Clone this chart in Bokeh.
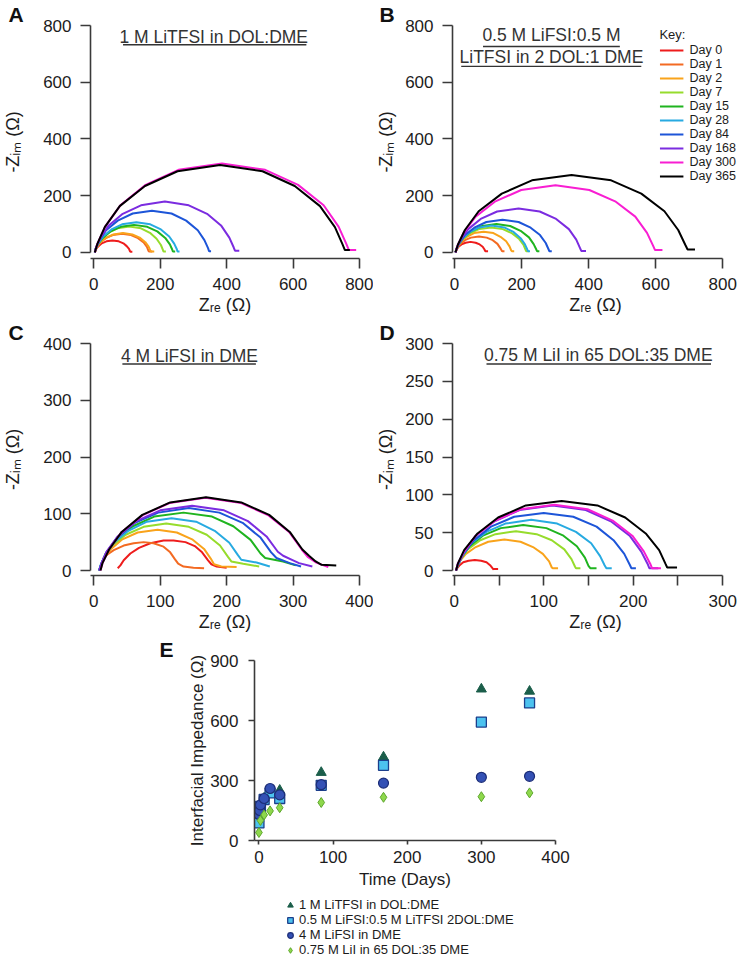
from bokeh.plotting import figure
from bokeh.models import Range1d, FixedTicker, Label, Legend, LegendItem
from bokeh.layouts import column, row
from bokeh.embed import file_html
from bokeh.resources import INLINE

# ---------------- data ----------------
days = [0, 1, 2, 7, 15, 28, 84, 168, 300, 365]
day_labels = ["Day 0", "Day 1", "Day 2", "Day 7", "Day 15", "Day 28",
              "Day 84", "Day 168", "Day 300", "Day 365"]
day_colors = ["#ee1c1c", "#f36a22", "#f9a31b", "#96dc2c", "#1fb41f", "#27aae1",
              "#1d55d8", "#7b2ce0", "#f81ed2", "#000000"]

# Panel A: 1 M LiTFSI in DOL:DME
a_d0_zre = [3, 4, 7, 14, 24, 38, 56, 75, 89, 99, 106, 109, 110, 116]
a_d0_zim = [0, 4, 12, 22, 32, 39, 42, 39, 32, 22, 12, 4, 2, 2]
a_d1_zre = [3, 5, 10, 19, 36, 57, 85, 112, 133, 150, 160, 164, 166, 176]
a_d1_zim = [0, 7, 19, 35, 50, 61, 66, 61, 50, 35, 19, 7, 3, 3]
a_d2_zre = [3, 5, 10, 20, 37, 59, 88, 116, 138, 155, 165, 170, 172, 182]
a_d2_zim = [0, 7, 20, 36, 52, 63, 68, 63, 52, 36, 20, 7, 3, 3]
a_d7_zre = [3, 5, 11, 24, 44, 71, 107, 142, 169, 189, 202, 208, 210, 217]
a_d7_zim = [0, 9, 26, 48, 69, 85, 91, 85, 69, 48, 26, 9, 3, 3]
a_d15_zre = [3, 5, 12, 27, 50, 81, 121, 161, 191, 215, 229, 236, 238, 245]
a_d15_zim = [0, 10, 28, 51, 74, 90, 97, 90, 74, 51, 28, 10, 3, 3]
a_d28_zre = [3, 5, 13, 28, 53, 85, 128, 170, 202, 227, 242, 250, 252, 258]
a_d28_zim = [0, 11, 31, 56, 81, 99, 106, 99, 81, 56, 31, 11, 3, 3]
a_d84_zre = [3, 6, 17, 37, 72, 117, 175, 234, 278, 313, 333, 344, 347, 353]
a_d84_zim = [0, 15, 43, 78, 112, 137, 147, 137, 112, 78, 43, 15, 4, 4]
a_d168_zre = [3, 7, 20, 45, 87, 142, 214, 286, 341, 383, 408, 421, 425, 438]
a_d168_zim = [0, 18, 52, 95, 136, 166, 179, 166, 136, 95, 52, 18, 6, 6]
a_d300_zre = [3, 11, 34, 80, 156, 255, 386, 516, 615, 692, 737, 760, 768, 790]
a_d300_zim = [0, 31, 91, 166, 238, 291, 313, 291, 238, 166, 91, 31, 8, 8]
a_d365_zre = [3, 11, 33, 78, 154, 252, 380, 508, 605, 681, 726, 748, 756, 771]
a_d365_zim = [0, 31, 89, 163, 234, 286, 308, 286, 234, 163, 89, 31, 8, 8]

# Panel B: 0.5 M LiFSI:0.5 M LiTFSI in 2 DOL:1 DME
b_d0_zre = [3, 4, 7, 12, 21, 33, 48, 63, 75, 84, 89, 92, 93, 100]
b_d0_zim = [0, 4, 11, 20, 28, 34, 37, 34, 28, 20, 11, 4, 4, 4]
b_d1_zre = [3, 4, 9, 17, 31, 49, 73, 96, 114, 128, 136, 141, 142, 149]
b_d1_zim = [0, 6, 16, 30, 43, 52, 56, 52, 43, 30, 16, 6, 4, 4]
b_d2_zre = [3, 5, 10, 20, 37, 58, 87, 116, 137, 154, 164, 169, 171, 178]
b_d2_zim = [0, 7, 21, 39, 55, 68, 73, 68, 55, 39, 21, 7, 4, 4]
b_d7_zre = [3, 5, 11, 24, 45, 73, 109, 144, 172, 193, 206, 212, 214, 221]
b_d7_zim = [0, 9, 26, 47, 67, 82, 88, 82, 67, 47, 26, 9, 4, 4]
b_d15_zre = [3, 5, 13, 27, 52, 83, 125, 166, 197, 222, 236, 244, 246, 253]
b_d15_zim = [0, 10, 29, 53, 76, 93, 100, 93, 76, 53, 29, 10, 4, 4]
b_d28_zre = [3, 5, 12, 25, 46, 74, 111, 148, 176, 197, 210, 217, 219, 225]
b_d28_zim = [0, 10, 28, 50, 72, 88, 95, 88, 72, 50, 28, 10, 4, 4]
b_d84_zre = [3, 6, 14, 31, 59, 95, 143, 191, 227, 255, 272, 280, 283, 290]
b_d84_zim = [0, 12, 33, 61, 87, 107, 115, 107, 87, 61, 33, 12, 4, 4]
b_d168_zre = [3, 7, 18, 41, 78, 127, 191, 254, 303, 341, 363, 374, 378, 392]
b_d168_zim = [0, 16, 45, 82, 118, 144, 155, 144, 118, 82, 45, 16, 5, 5]
b_d300_zre = [3, 9, 27, 63, 122, 199, 301, 402, 479, 539, 574, 592, 598, 620]
b_d300_zim = [0, 24, 69, 126, 180, 220, 237, 220, 180, 126, 69, 24, 8, 8]
b_d365_zre = [3, 10, 31, 72, 141, 231, 349, 467, 557, 626, 667, 688, 695, 717]
b_d365_zim = [0, 27, 79, 145, 207, 254, 273, 254, 207, 145, 79, 27, 10, 10]

# Panel C: 4 M LiFSI in DME
c_d0_zre = [36, 40, 45, 55, 68, 85, 105, 120, 138, 152, 163, 172, 177, 185, 200]
c_d0_zim = [4, 9, 18, 30, 40, 48, 53, 53, 50, 43, 32, 18, 11, 7, 5]
c_d1_zre = [14, 20, 30, 45, 60, 75, 90, 105, 115, 122, 127, 135, 150, 166]
c_d1_zim = [22, 28, 36, 44, 48, 50, 48, 42, 32, 20, 12, 7, 5, 4]
c_d2_zre = [8, 10, 15, 26, 43, 66, 96, 125, 148, 166, 176, 181, 192, 215]
c_d2_zim = [0, 7, 21, 38, 55, 67, 72, 67, 55, 38, 21, 11, 7, 6]
c_d7_zre = [8, 10, 16, 28, 48, 75, 109, 143, 170, 190, 202, 207, 225, 249]
c_d7_zim = [0, 8, 24, 44, 63, 77, 83, 77, 63, 44, 24, 16, 12, 7]
c_d15_zre = [8, 11, 18, 33, 59, 91, 135, 178, 210, 236, 251, 258, 285, 304]
c_d15_zim = [0, 10, 30, 54, 78, 95, 102, 95, 78, 54, 30, 22, 16, 9]
c_d28_zre = [8, 10, 17, 30, 52, 80, 117, 154, 182, 204, 217, 222, 245, 265]
c_d28_zim = [0, 9, 27, 49, 70, 86, 92, 86, 70, 49, 27, 19, 14, 7]
c_d84_zre = [8, 11, 19, 35, 62, 97, 143, 189, 224, 251, 267, 275, 295, 312]
c_d84_zim = [0, 11, 32, 58, 84, 102, 110, 102, 84, 58, 32, 22, 13, 7]
c_d168_zre = [8, 11, 19, 36, 64, 100, 148, 196, 232, 260, 277, 285, 300, 309, 329]
c_d168_zim = [0, 11, 33, 60, 87, 106, 114, 106, 87, 60, 33, 26, 18, 13, 7]
c_d300_zre = [10, 13, 23, 42, 73, 114, 168, 222, 263, 294, 313, 322, 335, 344, 353]
c_d300_zim = [0, 13, 37, 68, 97, 119, 128, 119, 97, 68, 37, 24, 14, 10, 6]
c_d365_zre = [10, 13, 23, 42, 73, 115, 169, 222, 264, 295, 314, 324, 334, 343, 365]
c_d365_zim = [0, 13, 37, 68, 98, 120, 129, 120, 98, 68, 37, 26, 16, 10, 9]

# Panel D: 0.75 M LiI in 65 DOL:35 DME (no Day 1 curve)
d_d0_zre = [2, 2, 4, 6, 10, 16, 23, 30, 36, 40, 42, 44, 44, 49]
d_d0_zim = [0, 1, 4, 7, 11, 13, 14, 13, 11, 7, 4, 1, 2, 2]
d_d2_zre = [2, 3, 6, 13, 24, 38, 56, 74, 88, 99, 106, 109, 110, 116]
d_d2_zim = [0, 4, 12, 22, 31, 38, 41, 38, 31, 22, 12, 4, 3, 3]
d_d7_zre = [2, 3, 7, 15, 29, 46, 69, 92, 109, 123, 131, 135, 136, 141]
d_d7_zim = [0, 5, 15, 28, 40, 48, 52, 48, 40, 28, 15, 5, 3, 3]
d_d15_zre = [2, 4, 8, 17, 32, 52, 77, 103, 122, 137, 146, 150, 152, 159]
d_d15_zim = [0, 6, 17, 32, 46, 56, 60, 56, 46, 32, 17, 6, 3, 3]
d_d28_zre = [2, 4, 9, 19, 36, 57, 86, 115, 136, 153, 163, 168, 170, 176]
d_d28_zim = [0, 7, 19, 36, 51, 62, 67, 62, 51, 36, 19, 7, 3, 3]
d_d84_zre = [2, 4, 10, 22, 41, 67, 100, 133, 159, 178, 190, 196, 198, 203]
d_d84_zim = [0, 8, 22, 40, 58, 71, 76, 71, 58, 40, 22, 8, 3, 3]
d_d168_zre = [2, 4, 11, 24, 45, 73, 110, 147, 175, 196, 209, 216, 218, 228]
d_d168_zim = [0, 9, 25, 46, 65, 80, 86, 80, 65, 46, 25, 9, 3, 3]
d_d300_zre = [2, 4, 11, 24, 46, 74, 112, 149, 177, 199, 212, 219, 221, 231]
d_d300_zim = [0, 9, 25, 46, 66, 81, 87, 81, 66, 46, 25, 9, 3, 3]
d_d365_zre = [2, 4, 11, 26, 49, 80, 120, 160, 191, 214, 229, 236, 238, 249]
d_d365_zim = [0, 9, 27, 49, 70, 86, 92, 86, 70, 49, 27, 9, 4, 4]

# Panel E: interfacial impedance vs time
e_days = [0, 1, 2, 7, 15, 28, 84, 168, 300, 365]
e_litfsi = [110, 165, 175, 212, 240, 251, 340, 417, 757, 746]
e_dual = [88, 140, 170, 205, 238, 210, 276, 376, 592, 688]
e_lifsi = [130, 150, 178, 210, 260, 228, 279, 287, 316, 321]
e_lii_days = [0, 2, 7, 15, 28, 84, 168, 300, 365]
e_lii = [40, 100, 128, 148, 164, 190, 216, 219, 238]
e_labels = ["1 M LiTFSI in DOL:DME", "0.5 M LiFSI:0.5 M LiTFSI 2DOL:DME",
            "4 M LiFSI in DME", "0.75 M LiI in 65 DOL:35 DME"]

panel_titles = {
    "A": ["1 M LiTFSI in DOL:DME"],
    "B": ["0.5 M LiFSI:0.5 M", "LiTFSI in 2 DOL:1 DME"],
    "C": ["4 M LiFSI in DME"],
    "D": ["0.75 M LiI in 65 DOL:35 DME"],
}

curves_a = [(a_d0_zre, a_d0_zim), (a_d1_zre, a_d1_zim), (a_d2_zre, a_d2_zim),
            (a_d7_zre, a_d7_zim), (a_d15_zre, a_d15_zim), (a_d28_zre, a_d28_zim),
            (a_d84_zre, a_d84_zim), (a_d168_zre, a_d168_zim),
            (a_d300_zre, a_d300_zim), (a_d365_zre, a_d365_zim)]
curves_b = [(b_d0_zre, b_d0_zim), (b_d1_zre, b_d1_zim), (b_d2_zre, b_d2_zim),
            (b_d7_zre, b_d7_zim), (b_d15_zre, b_d15_zim), (b_d28_zre, b_d28_zim),
            (b_d84_zre, b_d84_zim), (b_d168_zre, b_d168_zim),
            (b_d300_zre, b_d300_zim), (b_d365_zre, b_d365_zim)]
curves_c = [(c_d0_zre, c_d0_zim), (c_d1_zre, c_d1_zim), (c_d2_zre, c_d2_zim),
            (c_d7_zre, c_d7_zim), (c_d15_zre, c_d15_zim), (c_d28_zre, c_d28_zim),
            (c_d84_zre, c_d84_zim), (c_d168_zre, c_d168_zim),
            (c_d300_zre, c_d300_zim), (c_d365_zre, c_d365_zim)]
curves_d = [(d_d0_zre, d_d0_zim), None, (d_d2_zre, d_d2_zim),
            (d_d7_zre, d_d7_zim), (d_d15_zre, d_d15_zim), (d_d28_zre, d_d28_zim),
            (d_d84_zre, d_d84_zim), (d_d168_zre, d_d168_zim),
            (d_d300_zre, d_d300_zim), (d_d365_zre, d_d365_zim)]

# ---------------- style ----------------
FONT = "Liberation Sans"
AX = "#3a3a3a"
TXT = "#1c1c1c"
ZRE = "Z\u1d63\u2091 (\u03a9)"
ZIM = "-Z\u1d62\u2098 (\u03a9)"


def style_axis(ax, size="17px", tick_out=10, standoff=6):
    ax.axis_line_color = AX
    ax.axis_line_width = 1.6
    ax.major_tick_line_color = AX
    ax.major_tick_line_width = 1.6
    ax.major_tick_out = tick_out
    ax.major_tick_in = 0
    ax.minor_tick_line_color = AX
    ax.minor_tick_line_width = 1.6
    ax.minor_tick_out = tick_out
    ax.minor_tick_in = 0
    ax.major_label_text_font = FONT
    ax.major_label_text_font_size = size
    ax.major_label_text_color = TXT
    ax.major_label_standoff = standoff
    ax.axis_label_text_font = FONT
    ax.axis_label_text_font_size = "18px"
    ax.axis_label_text_font_style = "normal"
    ax.axis_label_text_color = TXT


def set_letter(p, letter, offset, size="21px"):
    p.title.text = letter
    p.title.text_font = FONT
    p.title.text_font_size = size
    p.title.text_font_style = "bold"
    p.title.text_color = "#111111"
    p.title.align = "left"
    p.title.offset = offset
    p.title.standoff = 0


def nyquist(w, h, xr, yr, borders, xt, yt, xbounds, curves, letter,
            title_pos, underlines, ylab_standoff, xminor=None):
    bl, br, bt, bb = borders
    p = figure(width=w, height=h, x_range=Range1d(*xr), y_range=Range1d(*yr),
               output_backend="svg", toolbar_location=None, title=letter,
               min_border_left=bl, min_border_right=br,
               min_border_top=bt, min_border_bottom=bb)
    set_letter(p, letter, -bl)
    p.xgrid.visible = False
    p.ygrid.visible = False
    p.outline_line_color = None
    p.xaxis.ticker = FixedTicker(ticks=xt, minor_ticks=xminor or [])
    p.yaxis.ticker = FixedTicker(ticks=yt)
    p.yaxis.bounds = (yt[0], yt[-1])
    p.xaxis.bounds = xbounds
    for ax in list(p.xaxis) + list(p.yaxis):
        style_axis(ax)
    p.yaxis.major_label_standoff = 9
    p.xaxis.major_label_standoff = 9
    p.xaxis.axis_label = ZRE
    p.yaxis.axis_label = ZIM
    p.xaxis.axis_label_standoff = 2
    p.yaxis.axis_label_standoff = ylab_standoff
    rends = []
    for c, col in zip(curves, day_colors):
        if c is None:
            rends.append(None)
            continue
        rends.append(p.line(c[0], c[1], line_color=col, line_width=2))
    for (tx, ty, txt) in title_pos:
        p.add_layout(Label(x=tx, y=ty, text=txt, text_font=FONT,
                           text_font_size="17.5px", text_color="#333333",
                           text_align="center", text_baseline="middle"))
    ux0 = [u[0] for u in underlines]
    ux1 = [u[1] for u in underlines]
    uy = [u[2] for u in underlines]
    p.segment(ux0, uy, ux1, uy, line_color="#333333", line_width=1.4)
    return p, rends


pA, _ = nyquist(373, 318, (-10, 800), (-21.6, 800), (82, 14, 18, 60),
                [0, 200, 400, 600, 800], [0, 200, 400, 600, 800], (-10, 800),
                curves_a, "A",
                [(361, 761, panel_titles["A"][0])], [(88, 640, 732)], 17)
pB, rB = nyquist(365, 318, (-6, 846.8), (-21.6, 800), (73, 0, 18, 60),
                 [0, 200, 400, 600, 800], [0, 200, 400, 600, 800], (-6, 800),
                 curves_b, "B",
                 [(289, 765, panel_titles["B"][0]), (289, 688, panel_titles["B"][1])],
                 [(85, 493, 726), (20, 557, 656)], 6)
pC, _ = nyquist(373, 317, (-5, 400), (-8.8, 400), (82, 14, 18, 60),
                [0, 100, 200, 300, 400], [0, 100, 200, 300, 400], (-5, 400),
                curves_c, "C",
                [(144, 378, panel_titles["C"][0])], [(43, 244, 364)], 17)
pD, _ = nyquist(365, 317, (-2, 317.7), (-6.6, 300), (73, 0, 18, 60),
                [0, 100, 200, 300], [0, 50, 100, 150, 200, 250, 300], (-2, 300),
                curves_d, "D",
                [(161, 285, panel_titles["D"][0])], [(36, 287, 273)], 6,
                xminor=[50, 150, 250])

# key legend in panel B
items = [LegendItem(label=l, renderers=[r]) for l, r in zip(day_labels, rB)]
key = Legend(items=items, location="top_right", title="Key:",
             border_line_color=None, background_fill_alpha=0, padding=0,
             spacing=0, margin=2, glyph_width=24, glyph_height=14,
             label_height=14, label_standoff=6, label_text_font=FONT,
             label_text_font_size="12.5px", label_text_color=TXT,
             title_text_font=FONT, title_text_font_size="13px",
             title_text_font_style="normal", title_text_color=TXT,
             title_standoff=1)
pB.add_layout(key)

# ---------------- panel E ----------------
pE = figure(width=738, height=261, x_range=Range1d(-6, 400), y_range=Range1d(0, 900),
            output_backend="svg", toolbar_location=None, title="E",
            min_border_left=254, min_border_right=183, min_border_top=24,
            min_border_bottom=56)
set_letter(pE, "E", -95)
pE.xgrid.visible = False
pE.ygrid.visible = False
pE.outline_line_color = None
pE.xaxis.ticker = FixedTicker(ticks=[0, 100, 200, 300, 400])
pE.yaxis.ticker = FixedTicker(ticks=[0, 300, 600, 900])
style_axis(pE.xaxis[0], size="17px", tick_out=4, standoff=6)
style_axis(pE.yaxis[0], size="17px", tick_out=6, standoff=10)
pE.xaxis.bounds = (-6, 400)
pE.xaxis.axis_label = "Time (Days)"
pE.yaxis.axis_label = "Interfacial Impedance (\u03a9)"
for ax in list(pE.xaxis) + list(pE.yaxis):
    ax.axis_label_text_font_size = "17px"
    ax.axis_label_standoff = 4
pE.yaxis.axis_label_standoff = 0

marker_styles = [
    dict(marker="triangle", size=10, fill_color="#1b5e4a", line_color="#1b5e4a"),
    dict(marker="square", size=10, fill_color="#4cc2ef", line_color="#1c3f8c", line_width=1.3),
    dict(marker="circle", size=10, fill_color="#3451b5", line_color="#1d2e78", line_width=1.2),
    dict(marker="diamond", size=10, fill_color="#8ed84c", line_color="#5ea72d", line_width=1.0),
]
e_series = [(e_days, e_litfsi), (e_days, e_dual), (e_days, e_lifsi), (e_lii_days, e_lii)]
for (xs, ys), st in zip(e_series, marker_styles):
    pE.scatter(xs, ys, **st)

# legend strip for panel E (same series, drawn in a strip whose range hides the points)
pL = figure(width=738, height=61, x_range=Range1d(1000, 1001), y_range=Range1d(0, 1),
            output_backend="svg", toolbar_location=None,
            x_axis_location=None, y_axis_location=None,
            min_border_left=254, min_border_right=183, min_border_top=0,
            min_border_bottom=0)
pL.xgrid.visible = False
pL.ygrid.visible = False
pL.outline_line_color = None
legend_rends = [pL.scatter(xs, ys, **st) for (xs, ys), st in zip(e_series, marker_styles)]
legE = Legend(items=[LegendItem(label=l, renderers=[r])
                     for l, r in zip(e_labels, legend_rends)],
              location=(28, 0), border_line_color=None,
              background_fill_alpha=0, padding=0, spacing=0, margin=0,
              glyph_width=16, glyph_height=14, label_height=14,
              label_standoff=1, label_text_font=FONT,
              label_text_font_size="13px", label_text_color=TXT)
pL.add_layout(legE)

layout = column(row(pA, pB), row(pC, pD), pE, pL)
open("out.html", "w").write(file_html(layout, INLINE))
